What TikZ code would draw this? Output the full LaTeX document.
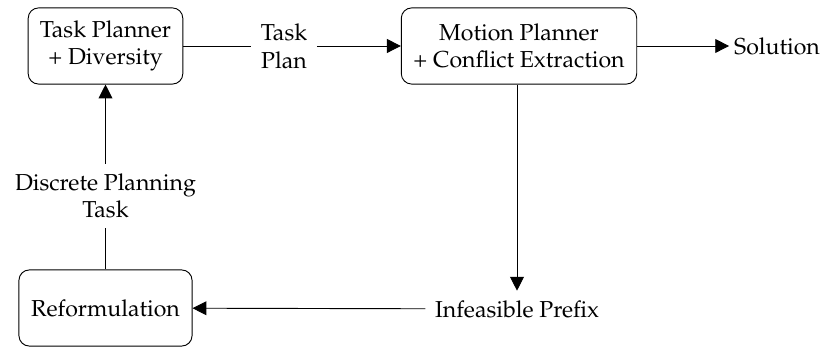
\documentclass[tikz,border=0pt]{standalone}
\usepackage[T1]{fontenc}
\usepackage{mathpazo}
\usepackage{tikz}
\usetikzlibrary{arrows.meta}

\begin{document}
\begin{tikzpicture}[x=0.4333pt, y=-0.4333pt, >={Triangle[length=6pt,width=6pt]}, thin]
		\useasboundingbox (0,0) rectangle (826,347);

		% Blocks
		\begin{scope}[every node/.style={draw,rounded corners=4.5pt,align=center,minimum height=33pt}]
			\node (planner) at (105.5,46) [minimum width=67pt] {Task Planner\\+ Diversity};
			\node (motion) at (519,46) [minimum width=102pt] {Motion Planner\\+ Conflict Extraction};
			\node (reform) at (105.5,308) [minimum width=75pt] {Reformulation};
		\end{scope}

		% Labels
		\begin{scope}[every node/.style={align=center,inner sep=4pt}]
			\node (plan) at (284,46) {Task\\Plan};
			\node (sol) at (777,46) [inner sep=2pt] {Solution};
			\node (prefix) at (517,309) {Infeasible Prefix};
			\node (disc) at (105.5,196) {Discrete Planning\\Task};
		\end{scope}

		% Arrows
		\begin{scope}[every edge/.style={draw}]
			\path (planner) edge (plan);
			\path [->] (plan) edge (motion);
			\path [->] (motion) edge (sol);
			\path [->] (motion.south -| prefix.north) edge (prefix);
			\path [->] (prefix) edge (reform);
			\path (reform) edge (disc);
			\path [->] (disc) edge (planner);
		\end{scope}
	\end{tikzpicture}
\end{document}
